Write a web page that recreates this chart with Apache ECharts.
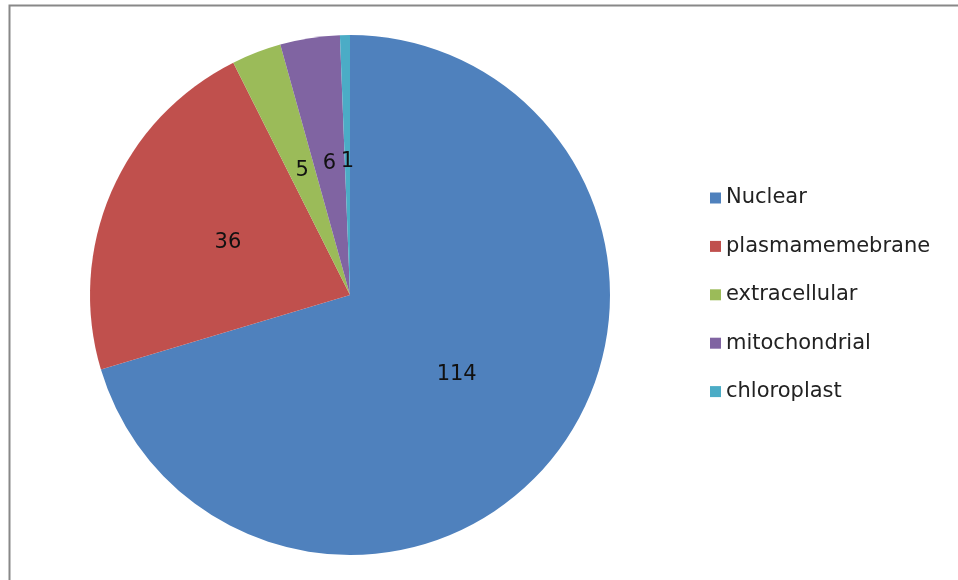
<!DOCTYPE html>
<html>
<head>
<meta charset="utf-8">
<script src="https://cdn.jsdelivr.net/npm/echarts@6/dist/echarts.min.js"></script>
<style>
html,body{margin:0;padding:0;background:#fff;}
#main{width:958px;height:580px;}
</style>
</head>
<body>
<div id="main"></div>
<script>
const categories = ['Nuclear', 'plasmamemebrane', 'extracellular', 'mitochondrial', 'chloroplast'];
const values = [114, 36, 5, 6, 1];
const colors = ['#4F81BD', '#C0504D', '#9BBB59', '#8064A2', '#4BACC6'];

const chart = echarts.init(document.getElementById('main'), null, {renderer: 'canvas'});
chart.setOption({
  animation: false,
  backgroundColor: '#fff',
  color: colors,
  graphic: [{
    type: 'rect',
    shape: {x: 9.5, y: 5.5, width: 1000, height: 1000},
    style: {fill: 'none', stroke: '#888', lineWidth: 2},
    silent: true,
    z: -1
  }],
  legend: {
    orient: 'vertical',
    left: 705,
    top: 182,
    icon: 'rect',
    itemWidth: 11,
    itemHeight: 11,
    itemGap: 26.4,
    textStyle: {fontFamily: 'DejaVu Sans', fontSize: 21, color: '#222', lineHeight: 22},
    data: categories
  },
  series: [{
    type: 'pie',
    center: [350, 295],
    radius: 260,
    startAngle: 90,
    clockwise: true,
    avoidLabelOverlap: false,
    itemStyle: {borderWidth: 0},
    label: {
      position: 'inside',
      formatter: '{c}',
      fontFamily: 'DejaVu Sans',
      fontSize: 21,
      color: '#111'
    },
    labelLine: {show: false},
    data: categories.map((c, i) => ({name: c, value: values[i]}))
  }]
});
</script>
</body>
</html>
